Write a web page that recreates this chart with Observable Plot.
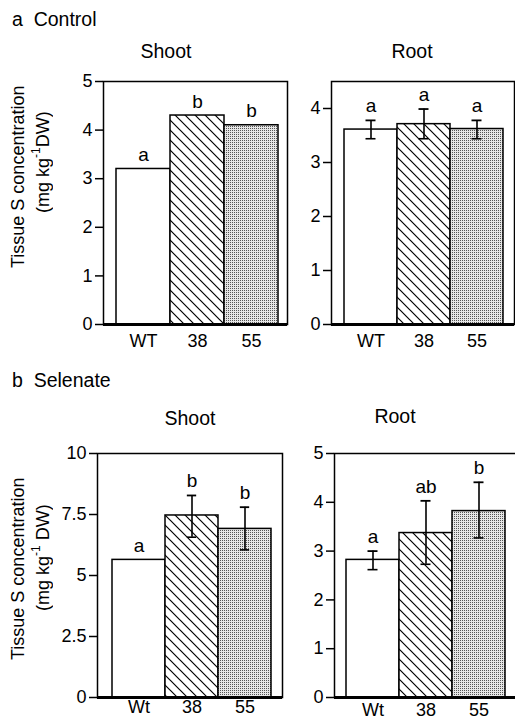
<!DOCTYPE html>
<html>
<head>
<meta charset="utf-8">
<script src="https://cdn.jsdelivr.net/npm/d3@7"></script>
<script src="https://cdn.jsdelivr.net/npm/@observablehq/plot@0.6"></script>
<style>
  html, body { margin: 0; padding: 0; background: white; overflow: hidden; }
  #page { position: relative; width: 515px; height: 722px; overflow: hidden; background: white;
          font-family: "Liberation Sans", Arial, sans-serif; color: black; }
  .abs { position: absolute; white-space: nowrap; }
  .sec { font-size: 19.5px; }
  .ttl { font-size: 19.5px; transform: translateX(-50%); }
  .ylab { position: absolute; writing-mode: vertical-rl; transform: rotate(180deg);
          text-align: center; font-size: 18px; line-height: 22px; width: 22px; white-space: nowrap; }
  .ylab sup { font-size: 12px; line-height: 0; }
  .panel { position: absolute; }
  .panel svg { max-width: none; overflow: visible; }
</style>
</head>
<body>
<div id="page">
  <svg width="0" height="0" style="position:absolute">
    <defs>
      <pattern id="hatch" patternUnits="userSpaceOnUse" width="10" height="10">
        <rect width="10" height="10" fill="white"></rect>
        <path d="M-2.5,7.5 L2.5,12.5 M0,0 L10,10 M7.5,-2.5 L12.5,2.5" stroke="black" stroke-width="1.2"></path>
      </pattern>
      <pattern id="dots" patternUnits="userSpaceOnUse" width="2" height="2">
        <rect width="2" height="2" fill="#e6e6e6"></rect>
        <rect width="1" height="1" fill="#555"></rect>
      </pattern>
    </defs>
  </svg>
  <div class="abs sec" style="left:12px; top:8px">a&nbsp; Control</div>
  <div class="abs ttl" style="left:166px; top:40px">Shoot</div>
  <div class="abs ttl" style="left:412px; top:40px">Root</div>
  <div class="ylab" style="left:7px; top:77px; height:200px;">Tissue S concentration</div>
  <div class="ylab" style="left:32px; top:82px; height:160px;">(mg kg<sup>-1</sup>DW)</div>

  <div class="abs sec" style="left:12px; top:369px">b&nbsp; Selenate</div>
  <div class="abs ttl" style="left:190px; top:407px">Shoot</div>
  <div class="abs ttl" style="left:395px; top:405px">Root</div>
  <div class="ylab" style="left:7px; top:469px; height:200px;">Tissue S concentration</div>
  <div class="ylab" style="left:32px; top:478px; height:160px;">(mg kg<sup>-1</sup> DW)</div>
</div>
<script>
// ---- data ----
const groupsA = ["WT", "38", "55"];
const groupsB = ["Wt", "38", "55"];

const controlShoot = [3.2, 4.3, 4.1];
const controlShootLetters = ["a", "b", "b"];

const controlRoot = [3.61, 3.71, 3.62];
const controlRootLow = [3.44, 3.44, 3.44];
const controlRootHigh = [3.78, 3.99, 3.78];
const controlRootLetters = ["a", "a", "a"];

const selenateShoot = [5.64, 7.46, 6.91];
const selenateShootLow = [null, 6.57, 6.05];
const selenateShootHigh = [null, 8.28, 7.8];
const selenateShootLetters = ["a", "b", "b"];

const selenateRoot = [2.82, 3.37, 3.82];
const selenateRootLow = [2.62, 2.73, 3.27];
const selenateRootHigh = [3.0, 4.03, 4.41];
const selenateRootLetters = ["a", "ab", "b"];

const ticksControlShoot = [0, 1, 2, 3, 4, 5];
const ticksControlRoot = [0, 1, 2, 3, 4];
const ticksSelenateShoot = [0, 2.5, 5, 7.5, 10];
const ticksSelenateRoot = [0, 1, 2, 3, 4, 5];

const fills = ["white", "url(#hatch)", "url(#dots)"];

function rows(groups, values, low, high, letters) {
  return groups.map((g, i) => ({
    g, k: i, v: values[i],
    lo: low ? low[i] : null, hi: high ? high[i] : null,
    lab: letters[i]
  }));
}

function panel(o) {
  const data = rows(o.groups, o.values, o.low, o.high, o.letters);
  const err = data.filter(d => d.lo != null && d.hi != null);
  const bw = (o.xr[1] - o.xr[0]) / 3;
  const capInset = (bw - 10) / 2;
  const chart = Plot.plot({
    width: o.width, height: o.height,
    marginLeft: o.ml, marginRight: o.mr, marginTop: o.mt, marginBottom: o.mb,
    style: {fontSize: "18px", fontFamily: "Liberation Sans, Arial, sans-serif", color: "black", background: "transparent"},
    x: {domain: o.groups, range: o.xr, padding: 0, label: null},
    y: {domain: o.domain, label: null},
    color: {type: "ordinal", domain: [0, 1, 2], range: fills},
    marks: [
      Plot.barY(data, {x: "g", y: "v", fill: "k", stroke: "black", strokeWidth: 1.5}),
      Plot.ruleX(err, {x: "g", y1: "lo", y2: "hi", stroke: "black", strokeWidth: 1.6}),
      Plot.tickY(err, {x: "g", y: "lo", insetLeft: capInset, insetRight: capInset, stroke: "black", strokeWidth: 1.6}),
      Plot.tickY(err, {x: "g", y: "hi", insetLeft: capInset, insetRight: capInset, stroke: "black", strokeWidth: 1.8}),
      Plot.text(data, {x: "g", y: d => d.hi != null ? d.hi : d.v, text: "lab", lineAnchor: "bottom", dy: -8, fontSize: 19}),
      Plot.frame({stroke: "black", strokeWidth: 1.5}),
      Plot.ruleY([0], {stroke: "black", strokeWidth: 3}),
      Plot.axisY({ticks: o.ticks, tickSize: 8, tickPadding: 3, tickFormat: d => String(d), strokeWidth: 1.5, label: null}),
      Plot.axisX({tickSize: 0, tickPadding: o.xpad, label: null})
    ]
  });
  const div = document.createElement("div");
  div.className = "panel";
  div.style.left = o.left + "px";
  div.style.top = o.top + "px";
  div.appendChild(chart);
  document.getElementById("page").appendChild(div);
}

panel({groups: groupsA, values: controlShoot, letters: controlShootLetters,
  domain: [0, 5], ticks: ticksControlShoot, xpad: 10,
  left: 0, top: 60, width: 290, height: 300, ml: 103, mr: 3, mt: 21, mb: 36, xr: [116, 278]});

panel({groups: groupsA, values: controlRoot, low: controlRootLow, high: controlRootHigh, letters: controlRootLetters,
  domain: [0, 4.5], ticks: ticksControlRoot, xpad: 10,
  left: 290, top: 60, width: 225, height: 300, ml: 41, mr: 1, mt: 21, mb: 36, xr: [54, 213]});

panel({groups: groupsB, values: selenateShoot, low: selenateShootLow, high: selenateShootHigh, letters: selenateShootLetters,
  domain: [0, 10], ticks: ticksSelenateShoot, xpad: 3,
  left: 0, top: 430, width: 285, height: 292, ml: 97, mr: 3, mt: 23, mb: 25, xr: [111, 272]});

panel({groups: groupsB, values: selenateRoot, low: selenateRootLow, high: selenateRootHigh, letters: selenateRootLetters,
  domain: [0, 5], ticks: ticksSelenateRoot, xpad: 6,
  left: 290, top: 430, width: 228, height: 292, ml: 44, mr: 0, mt: 23, mb: 25, xr: [56, 215]});
</script>
</body>
</html>
